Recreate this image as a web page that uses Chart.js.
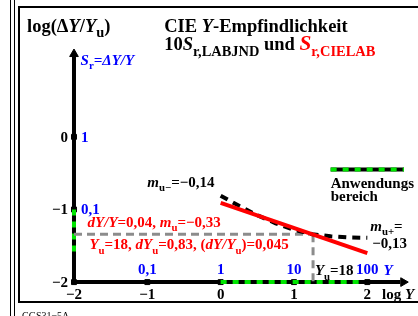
<!DOCTYPE html>
<html>
<head>
<meta charset="utf-8">
<script src="https://cdn.jsdelivr.net/npm/chart.js@4"></script>
<style>
html, body { margin: 0; padding: 0; background: #fff; overflow: hidden; }
canvas { display: block; }
</style>
</head>
<body>
<canvas id="myChart" width="418" height="316"></canvas>
<script>
// tick values (log Y and log dY/Yu) and their linear labels
const xTicks = [-2, -1, 0, 1, 2];
const yTicks = [0, -1, -2];
const xTicksLin = ['0,1', '1', '10', '100'];   // at log Y = -1 .. 2
const yTicksLin = ['1', '0,1'];                // at 0, -1

// S_r,CIELAB (red line)
const redX = [0, 2];
const redY = [-0.91, -1.6];
// 10 S_r,LABJND (black dashed curve)
const jndX = [0, 0.25, 0.5, 0.75, 1, 1.25, 1.5, 1.75, 2];
const jndY = [-0.81, -0.95, -1.08, -1.19, -1.28, -1.34, -1.37, -1.385, -1.39];
// Yu = 18 -> log Yu
const logYu = 1.26;
const logSu = -1.34;
// Anwendungsbereich
const rangeX = [0, 1.95];
const rangeY = [-1, -1.6];
const legendX = [1.5, 2.5];
const legendY = -0.45;

const PX = 75.5; // pixel per log unit
const BLUE = '#0000ff', RED = '#ff0000', GREEN = '#00e600', GREY = '#8c8c8c';
const FS = 15;   // annotation font size
const TS = 18.5; // title font size

function pts(xs, ys) {
  return xs.map((x, i) => ({ x: x, y: Array.isArray(ys) ? ys[i] : ys }));
}

function line(data, color, width, dash, order) {
  return { data: data, borderColor: color, borderWidth: width, borderDash: dash || [],
    pointRadius: 0, order: order, tension: 0, fill: false };
}

// draws text runs: [text, flags, colour] flags: i = italic, s = subscript, b = bigger
function rich(ctx, x, y, runs, size, color, sub) {
  sub = sub || 0.72;
  let cx = x;
  runs.forEach(r => {
    const f = r[1] || '';
    const s = f.includes('s') ? size * sub : (f.includes('b') ? size * 1.15 : size);
    ctx.font = (f.includes('i') ? 'italic ' : '') + 'bold ' + s + 'px "Liberation Serif"';
    ctx.fillStyle = r[2] || color;
    ctx.fillText(r[0], cx, y + (f.includes('s') ? size * 0.28 : 0));
    cx += ctx.measureText(r[0]).width;
  });
}

const textPlugin = {
  id: 'texts',
  beforeDraw(chart) {
    const ctx = chart.ctx;
    ctx.save();
    ctx.strokeStyle = '#000';
    ctx.lineWidth = 1;
    ctx.beginPath();
    ctx.moveTo(10.5, 0); ctx.lineTo(10.5, 316);
    ctx.moveTo(14.5, 0); ctx.lineTo(14.5, 316);
    ctx.stroke();
    ctx.lineWidth = 2;
    ctx.strokeRect(19, 7, 500, 295);
    ctx.restore();
  },
  afterDatasetsDraw(chart) {
    const ctx = chart.ctx;
    const xs = chart.scales.x, ys = chart.scales.y;
    const X = v => xs.getPixelForValue(v), Y = v => ys.getPixelForValue(v);
    ctx.save();
    ctx.textBaseline = 'alphabetic';

    // tick labels
    ctx.font = 'bold ' + FS + 'px "Liberation Serif"';
    ctx.fillStyle = '#000';
    ctx.textAlign = 'center';
    xTicks.forEach(v => ctx.fillText(String(v).replace('-', '−'), X(v), Y(-2) + 17));
    ctx.textAlign = 'right';
    yTicks.forEach(v => ctx.fillText(String(v).replace('-', '−'), X(-2) - 6, Y(v) + 5));
    ctx.fillStyle = BLUE;
    ctx.textAlign = 'center';
    xTicksLin.forEach((t, i) => ctx.fillText(t, X(i - 1), Y(-2) - 8));
    ctx.textAlign = 'left';
    yTicksLin.forEach((t, i) => ctx.fillText(t, X(-2) + 7, Y(-i) + 5));

    ctx.textAlign = 'left';
    rich(ctx, X(-2.64), Y(1.44), [['log(Δ'], ['Y', 'i'], ['/'], ['Y', 'i'], ['u', 's'], [')']], TS, '#000', 0.78);
    rich(ctx, X(-0.77), Y(1.44), [['CIE '], ['Y', 'i'], ['-Empfindlichkeit']], TS, '#000');
    rich(ctx, X(-0.77), Y(1.19), [['10'], ['S', 'i'], ['r,LABJND', 's'], [' und '],
      ['S', 'ib', RED], ['r,CIELAB', 's', RED]], TS, '#000', 0.78);
    rich(ctx, X(-1.91), Y(0.99), [['S', 'i'], ['r', 's'], ['=ΔY/Y', 'i']], FS, BLUE);
    rich(ctx, X(-1.0), Y(-0.69), [['m', 'i'], ['u−', 's'], ['=−0,14']], FS, '#000');
    rich(ctx, X(-1.815), Y(-1.245), [['dY/Y', 'i'], ['=0,04, '], ['m', 'i'], ['u', 's'], ['=−0,33']], FS, RED);
    rich(ctx, X(-1.79), Y(-1.55), [['Y', 'i'], ['u', 's'], ['=18, '], ['dY', 'i'], ['u', 's'],
      ['=0,83, ('], ['dY/Y', 'i'], ['u', 's'], [')=0,045']], FS, RED);
    rich(ctx, X(1.5), Y(-0.7), [['Anwendungs']], FS, '#000');
    rich(ctx, X(1.5), Y(-0.885), [['bereich']], FS, '#000');
    rich(ctx, X(2.04), Y(-1.3), [['m', 'i'], ['u+', 's'], ['=']], FS, '#000');
    rich(ctx, X(2.066), Y(-1.535), [['−0,13']], FS, '#000');
    rich(ctx, X(1.285), Y(-1.907), [['Y', 'i'], ['u', 's'], ['=18']], FS, '#000');
    rich(ctx, X(2.22), Y(-1.907), [['Y', 'i']], FS, BLUE);
    rich(ctx, X(2.2), Y(-2.238), [['log '], ['Y', 'i']], FS, '#000');

    ctx.font = '10px "Liberation Serif"';
    ctx.fillStyle = '#000';
    ctx.fillText('CGS31−5A', 22, 319);
    ctx.restore();
  }
};

const tickPts = pts(xTicks.slice(1), -2).concat(yTicks.map(v => ({ x: -2, y: v })));

new Chart(document.getElementById('myChart'), {
  type: 'line',
  data: {
    datasets: [
      line(pts([-2, -2], [-2, 1.1]), '#000', 4, null, 20),
      line(pts([-2, 2.45], -2), '#000', 4, null, 20),
      { data: [{ x: -2, y: 1.14 }], pointStyle: 'triangle', pointRadius: 5, pointBackgroundColor: '#000',
        pointBorderColor: '#000', showLine: false, order: 19 },
      { data: [{ x: 2.49, y: -2 }], pointStyle: 'triangle', pointRotation: 90, pointRadius: 5,
        pointBackgroundColor: '#000', pointBorderColor: '#000', showLine: false, order: 19 },
      { data: tickPts, pointStyle: 'rect', pointRadius: 3.5, pointBackgroundColor: '#000',
        pointBorderColor: '#000', showLine: false, order: 18 },
      line(pts(rangeX, -2), GREEN, 4, [6, 6], 15),
      line(pts([-2, -2], rangeY), GREEN, 4, [6, 6], 15),
      line(pts(legendX, legendY), '#000', 4, null, 16),
      line(pts(legendX, legendY), GREEN, 4, [6, 6], 15),
      line(pts([-2, logYu], logSu), GREY, 3, [8, 5], 14),
      line(pts([logYu, logYu], [logSu, -2]), GREY, 3, [8, 5], 14),
      line(pts(jndX, jndY), '#000', 4, [8, 6], 12),
      line(pts(redX, redY), RED, 4, null, 11)
    ]
  },
  options: {
    responsive: false,
    animation: false,
    devicePixelRatio: 1,
    layout: { padding: 0 },
    plugins: { legend: { display: false }, tooltip: { enabled: false } },
    scales: {
      x: { type: 'linear', display: false, min: -2 - 70 / PX, max: -2 - 70 / PX + 418 / PX },
      y: { type: 'linear', display: false, min: 136 / PX - 316 / PX, max: 136 / PX }
    }
  },
  plugins: [textPlugin]
});
</script>
</body>
</html>
